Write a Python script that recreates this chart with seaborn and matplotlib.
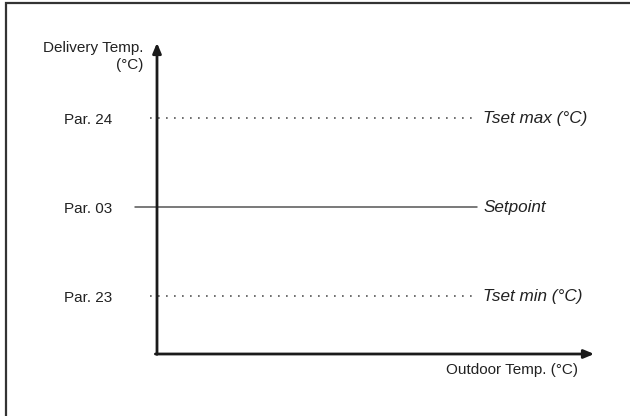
import matplotlib
matplotlib.use("Agg")
import matplotlib.pyplot as plt
import seaborn as sns
import pandas as pd
from matplotlib.patches import Rectangle

# Livelli di temperatura (valori indicativi, equidistanti)
par_labels = ["Par. 23", "Par. 03", "Par. 24"]
par_values = [1, 2, 3]
curve_names = ["Tset min (°C)", "Setpoint", "Tset max (°C)"]
line_styles = ["dot", "solid", "dot"]

sns.set_style("white")
plt.rcParams['font.family'] = ['Liberation Sans', 'DejaVu Sans']

fig = plt.figure(figsize=(6.3, 4.16), dpi=100)
W, H = 630, 416
ax = fig.add_axes([157 / W, (H - 354) / H, (597 - 157) / W, (354 - 40) / H])
ax.set_xlim(0, 1)
ax.set_ylim(0.35, 3.88)

# linee orizzontali
x_start = {"dot": -0.016, "solid": -0.05}
for name, val, ls in zip(curve_names, par_values, line_styles):
    df = pd.DataFrame({"x": [x_start[ls], 0.727], "y": [val, val]})
    if ls == "dot":
        sns.lineplot(data=df, x="x", y="y", ax=ax, color="#555555",
                     linestyle=(0, (1, 3.8)), linewidth=1.2, clip_on=False)
    else:
        sns.lineplot(data=df, x="x", y="y", ax=ax, color="#555555",
                     linestyle="-", linewidth=1.1, clip_on=False)
    ax.text(0.742, val, name, fontsize=12.3, style="italic", va="center", ha="left",
            transform=ax.get_yaxis_transform(), color="#222222")

ax.set_yticks(par_values)
ax.set_yticklabels(par_labels, fontsize=11, color="#222222")
ax.tick_params(axis="y", length=0, pad=32)
ax.set_xticks([])
ax.set_xlabel("")
ax.set_ylabel("")
for s in ax.spines.values():
    s.set_visible(False)

# assi con freccia
ax.annotate("", xy=(0, 1), xytext=(0, -0.01), xycoords="axes fraction",
            arrowprops=dict(arrowstyle="-|>,head_length=0.6,head_width=0.25",
                            color="#1a1a1a", lw=2))
ax.annotate("", xy=(1, 0), xytext=(-0.01, 0), xycoords="axes fraction",
            arrowprops=dict(arrowstyle="-|>,head_length=0.6,head_width=0.25",
                            color="#1a1a1a", lw=2))

fig.text(143 / W, 1 - 48 / H, "Delivery Temp.", fontsize=11, ha="right", va="center", color="#222222")
fig.text(143 / W, 1 - 65 / H, "(°C)", fontsize=11, ha="right", va="center", color="#222222")
fig.text(578 / W, 1 - 370 / H, "Outdoor Temp. (°C)", fontsize=11, ha="right", va="center", color="#222222")

# cornice
fig.patches.append(Rectangle((6 / W, -0.01), 1.02, 1 - 2.5 / H + 0.01, transform=fig.transFigure,
                             fill=False, edgecolor="#333333", linewidth=1.6))

fig.savefig("out.png", dpi=100)
